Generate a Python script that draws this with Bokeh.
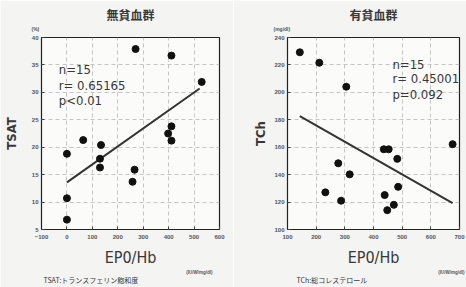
from bokeh.plotting import figure
from bokeh.layouts import row
from bokeh.models import Label, FixedTicker, Range1d, Title
from bokeh.embed import file_html
from bokeh.resources import INLINE

# ---- data: non-anemic group (left) ----
left_title = "無貧血群"
left_epo = [64, 134, 270, 411, 530, 411, 398, 411, 0, 130, 130, 266, 258, 0, 0]
left_tsat = [21.3, 20.4, 37.9, 36.7, 31.9, 23.8, 22.5, 21.2, 18.8, 17.9, 16.3, 15.9, 13.7, 10.7, 6.8]
left_fit_x = [0, 522]
left_fit_y = [13.6, 30.7]
left_stats = ["n=15", "r= 0.65165", "p<0.01"]
left_xticks = [-100, 0, 100, 200, 300, 400, 500, 600]
left_yticks = [5, 10, 15, 20, 25, 30, 35, 40]
left_ylabel = "TSAT"
left_yunit = "(%)"
left_caption = "TSAT:トランスフェリン飽和度"

# ---- data: anemic group (right) ----
right_title = "有貧血群"
right_epo = [143, 211, 305, 676, 436, 453, 483, 277, 317, 486, 232, 439, 287, 471, 448]
right_tch = [229.2, 221.6, 204.1, 162.2, 158.5, 158.5, 151.5, 148.3, 140.2, 131.1, 127.1, 125.1, 121.0, 118.0, 114.1]
right_fit_x = [143, 676]
right_fit_y = [182.6, 119.2]
right_stats = ["n=15", "r= 0.45001", "p=0.092"]
right_xticks = [100, 200, 300, 400, 500, 600, 700]
right_yticks = [100, 120, 140, 160, 180, 200, 220, 240]
right_ylabel = "TCh"
right_yunit = "(mg/dl)"
right_caption = "TCh:総コレステロール"

x_label = "EP0/Hb"
x_unit = "(IU/W/mg/dl)"

JP = "Noto Sans CJK JP"
COND = "DejaVu Sans Condensed, DejaVu Sans"
SANS = "Liberation Sans"
BG = "#f4f4f2"
INK = "#383838"


def style(p, xticks, yticks, ylabel, ystand, title, yunit, yunit_off, xunit_off, caption, cap_off):
    p.xaxis.ticker = FixedTicker(ticks=xticks)
    p.yaxis.ticker = FixedTicker(ticks=yticks)
    for ax in (p.xaxis, p.yaxis):
        ax.major_tick_in = 3
        ax.major_tick_out = 0
        ax.minor_tick_line_color = None
        ax.axis_line_color = "#222222"
        ax.major_tick_line_color = "#444444"
        ax.major_label_text_font_size = "6px"
        ax.major_label_text_font = SANS
        ax.major_label_text_font_style = "bold"
        ax.major_label_text_color = "#555555"
        ax.axis_label_text_color = INK
        ax.axis_label_text_font = COND
    p.yaxis.major_label_standoff = 3
    p.xaxis.major_label_standoff = 5
    p.yaxis.axis_label = ylabel
    p.yaxis.axis_label_text_font_size = "13px"
    p.yaxis.axis_label_text_font_style = "bold"
    p.yaxis.axis_label_standoff = ystand
    p.xaxis.axis_label = x_label
    p.xaxis.axis_label_text_font_size = "16px"
    p.xaxis.axis_label_text_font_style = "normal"
    p.xaxis.axis_label_standoff = 6
    p.grid.grid_line_color = "#b8b8b8"
    p.grid.grid_line_dash = "4 3"
    p.grid.grid_line_width = 0.8
    p.outline_line_color = "#222222"
    p.outline_line_width = 1.2
    p.background_fill_color = "#fbfbfa"
    p.border_fill_color = BG
    # title and small unit texts
    p.add_layout(Title(text=yunit, align="left", offset=yunit_off, text_font=SANS,
                       text_font_size="5px", text_font_style="bold", text_color="#555555",
                       standoff=11), "above")
    p.title.text = title
    p.title.align = "center"
    p.title.text_font = JP
    p.title.text_font_size = "12px"
    p.title.text_font_style = "bold"
    p.title.text_color = INK
    p.title.standoff = -9
    p.add_layout(Title(text=x_unit, align="right", offset=xunit_off, text_font=SANS,
                       text_font_size="4.5px", text_font_style="bold", text_color="#555555",
                       standoff=-10), "below")
    p.add_layout(Title(text=caption, align="left", offset=cap_off, text_font=JP,
                       text_font_size="7px", text_font_style="normal", text_color=INK,
                       standoff=6), "below")


def stats(p, x, ys, texts):
    for y, t in zip(ys, texts):
        p.add_layout(Label(x=x, y=y, text=t, text_font=COND, text_font_size="13px",
                           text_baseline="middle", text_color=INK))


# ---- left figure ----
p1 = figure(width=233, height=287, x_range=Range1d(-100, 600), y_range=Range1d(5, 40),
            output_backend="svg", toolbar_location=None,
            min_border_left=41, min_border_right=14, min_border_top=37, min_border_bottom=54)
style(p1, left_xticks, left_yticks, left_ylabel, 10, left_title, left_yunit, -10, 7,
      left_caption, 2)
p1.line(left_fit_x, left_fit_y, line_color="#333333", line_width=2)
p1.scatter(left_epo, left_tsat, size=7, color="#111111")
stats(p1, -32, [34.1, 31.3, 28.6], left_stats)

# ---- right figure ----
p2 = figure(width=233, height=287, x_range=Range1d(100, 700), y_range=Range1d(100, 240),
            output_backend="svg", toolbar_location=None,
            min_border_left=54, min_border_right=7, min_border_top=35, min_border_bottom=57)
style(p2, right_xticks, right_yticks, right_ylabel, 3, right_title, right_yunit, -14, -5,
      right_caption, 9)
p2.line(right_fit_x, right_fit_y, line_color="#333333", line_width=2)
p2.scatter(right_epo, right_tch, size=7, color="#111111")
stats(p2, 466, [220.6, 209.9, 198.4], right_stats)

layout = row(p1, p2)
open("out.html", "w").write(file_html(layout, INLINE))
